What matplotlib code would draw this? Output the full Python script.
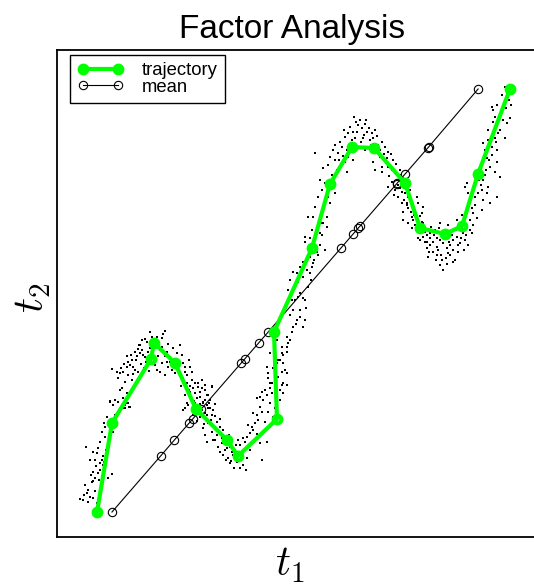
import numpy as np
import matplotlib.pyplot as plt

plt.rcParams['font.family'] = ['Liberation Sans', 'DejaVu Sans']
plt.rcParams['mathtext.fontset'] = 'cm'

# trajectory through the latent space (green)
traj_t1 = [97, 112, 151, 154, 175, 196, 227, 238, 277, 274,
           312, 330, 352, 374, 405, 420, 445, 462, 478, 510]
traj_t2 = [88, 177, 241, 257, 237, 191, 160, 144, 181, 268,
           352, 416, 453, 452, 417, 372, 366, 374, 426, 511]

# linear mean (black, open circles)
mean_t1 = [112, 160.6, 174.4, 189.2, 192.7, 201.3, 241.2, 244.7, 258.6, 268.2,
           341, 353.1, 358.3, 360.1, 396.5, 397.3, 405.1, 427.7, 428.6, 478.1]
mean_t2 = [88, 144, 160, 177, 181, 191, 237, 241, 257, 268,
           352, 366, 372, 374, 416, 417, 426, 452, 453, 511]

# observed samples, grouped by stretch of the curve
cloud_arm_left = [
    (110, 198), (125, 195), (129, 193), (123, 192), (127, 197), (107, 183), (108, 175),
    (105, 173), (102, 168), (113, 168), (105, 163), (86, 153), (93, 148), (97, 147),
    (103, 144), (102, 140), (95, 140), (100, 137), (103, 135), (96, 134), (100, 130),
    (93, 128), (112, 126), (108, 122), (95, 122), (92, 118), (93, 119), (88, 110),
    (95, 109), (87, 107), (80, 101), (83, 100), (93, 102), (88, 98), (97, 97),
    (84, 105), (90, 103), (85, 115), (99, 120), (91, 125), (98, 127), (104, 138),
    (90, 140), (98, 152), (106, 150), (100, 158), (109, 158), (104, 177), (115, 185),
    (118, 198)]

cloud_peak_left = [
    (165, 269), (152, 263), (157, 263), (142, 260), (145, 261), (162, 262), (158, 258),
    (138, 251), (135, 248), (142, 250), (140, 247), (143, 245), (137, 244), (145, 243),
    (132, 240), (128, 238), (130, 235), (127, 233), (133, 233), (135, 230), (138, 228),
    (123, 228), (120, 227), (117, 228), (112, 231), (128, 225), (132, 220), (125, 218),
    (122, 212), (120, 210), (127, 207), (123, 202), (128, 197), (115, 200), (110, 199),
    (113, 195), (125, 192), (130, 193), (162, 253), (167, 248), (170, 243), (173, 252),
    (177, 247), (180, 255), (182, 245), (183, 237), (185, 233), (190, 233), (192, 228),
    (187, 225), (183, 222), (192, 220), (195, 217), (198, 213), (202, 212), (205, 210),
    (208, 205), (200, 203), (203, 198), (195, 197), (188, 195), (207, 195), (210, 192),
    (212, 213), (157, 230), (155, 235), (162, 237), (167, 238), (168, 233), (172, 230),
    (175, 227), (178, 230), (180, 225), (182, 220), (187, 213), (190, 208), (197, 188),
    (202, 190), (185, 192), (165, 225), (153, 242), (148, 248), (150, 238),
    (140, 255), (147, 258), (150, 252), (155, 256), (160, 250), (158, 244), (152, 246),
    (146, 238), (141, 236), (136, 240), (131, 245), (144, 232), (149, 229), (170, 238),
    (173, 233), (176, 240), (165, 244), (168, 256), (163, 266), (150, 268), (139, 255),
    (127, 244), (124, 236), (118, 222), (121, 232), (133, 226), (160, 228), (178, 236),
    (185, 228), (189, 240)]

cloud_trough_left = [
    (187, 217), (198, 217), (205, 215), (212, 214), (193, 212), (200, 208), (207, 205),
    (190, 203), (197, 202), (210, 200), (203, 197), (187, 197), (208, 192), (183, 190),
    (205, 187), (212, 185), (193, 185), (200, 183), (217, 178), (208, 177), (213, 173),
    (220, 173), (203, 172), (223, 170), (212, 168), (205, 165), (217, 165), (207, 158),
    (213, 160), (222, 157), (218, 153), (225, 150), (230, 153), (223, 145), (228, 142),
    (233, 145), (230, 137), (237, 138), (243, 135), (235, 150), (240, 155), (245, 158),
    (247, 163), (250, 167), (243, 162), (253, 170), (252, 173), (255, 177), (258, 180),
    (257, 185), (253, 187), (262, 188), (260, 193), (263, 200), (257, 202), (267, 205),
    (262, 208), (270, 212), (272, 217), (282, 215), (287, 215), (283, 207), (280, 200),
    (270, 197), (275, 192), (268, 188), (273, 183), (265, 178), (270, 173), (262, 140),
    (267, 158), (260, 157),
    (218, 168), (222, 162), (226, 158), (232, 148), (236, 143), (239, 140), (241, 146),
    (244, 150), (226, 140), (234, 132), (247, 142), (250, 150), (215, 160), (210, 176),
    (229, 165), (238, 160), (246, 130), (240, 132), (254, 160), (257, 166), (220, 148),
    (248, 175), (231, 139), (227, 152), (236, 155),
    (185, 205), (190, 214), (195, 207), (200, 196), (205, 200), (209, 197), (213, 190),
    (215, 184), (192, 191), (199, 190), (211, 180), (197, 179), (215, 196), (189, 210),
    (202, 220), (181, 214), (220, 181), (204, 176), (194, 199), (207, 185)]

cloud_rise_mid = [
    (305, 363), (322, 365), (327, 373), (323, 377), (325, 350), (317, 348), (313, 337),
    (312, 333), (303, 338), (300, 333), (297, 327), (293, 328), (290, 320), (303, 323),
    (310, 327), (307, 330), (288, 310), (298, 303), (300, 307), (303, 302), (295, 300),
    (293, 290), (290, 285), (300, 283), (305, 280), (297, 280), (293, 273), (303, 273),
    (287, 263), (290, 260), (287, 253), (282, 253), (282, 247), (287, 248), (280, 240),
    (283, 237), (277, 237), (273, 232), (282, 228), (287, 227), (278, 223), (270, 247),
    (267, 233), (268, 227), (270, 217), (275, 215), (283, 217), (265, 210), (272, 207),
    (260, 203), (257, 202), (280, 210), (268, 222),
    (278, 240), (283, 245), (288, 257), (292, 268), (296, 276), (300, 290), (305, 300),
    (308, 313), (311, 320), (314, 340), (318, 345), (320, 355), (277, 260), (285, 230),
    (275, 228), (292, 300), (306, 292), (298, 318), (310, 343), (315, 360)]

cloud_peak_right = [
    (358, 475), (362, 472), (353, 468), (367, 468), (348, 467), (372, 467), (345, 463),
    (375, 470), (363, 462), (355, 462), (370, 460), (382, 458), (378, 455), (342, 453),
    (385, 453), (388, 448), (387, 442), (393, 440), (380, 443), (348, 443), (353, 440),
    (345, 438), (338, 447), (335, 440), (330, 443), (328, 435), (323, 432), (337, 430),
    (347, 428), (332, 425), (315, 447), (320, 420), (325, 417), (322, 410), (335, 407),
    (318, 403), (328, 403), (330, 397), (315, 393), (323, 390), (327, 383), (313, 383),
    (322, 377), (308, 383), (312, 370), (320, 367), (310, 362), (305, 358), (375, 430),
    (382, 428), (388, 433), (395, 427), (392, 418), (398, 415), (395, 410), (402, 408),
    (388, 413), (398, 403), (405, 407), (410, 402), (402, 397), (408, 392), (415, 390),
    (403, 388), (412, 383), (417, 380), (408, 377), (415, 375), (423, 377), (412, 372),
    (425, 368), (418, 362), (427, 358), (382, 433), (373, 438), (365, 450), (358, 452),
    (340, 458), (344, 470), (350, 473), (356, 478), (360, 480), (365, 476), (369, 472),
    (373, 462), (377, 464), (380, 450), (384, 446), (351, 457), (347, 450), (357, 468),
    (364, 465), (339, 440), (333, 450), (391, 446), (396, 436), (386, 437), (371, 455),
    (361, 458), (352, 460), (343, 444), (389, 424), (376, 448), (366, 480), (354, 483),
    (335, 455), (400, 430),
    (392, 430), (397, 420), (400, 412), (404, 400), (407, 395), (411, 388), (414, 385),
    (418, 378), (400, 425), (394, 405), (416, 370), (420, 384), (405, 418), (410, 410),
    (413, 395)]

cloud_trough_right = [
    (505, 513), (492, 493), (497, 495), (493, 490), (500, 487), (495, 483), (510, 482),
    (507, 477), (493, 478), (498, 467), (488, 460), (495, 462), (483, 457), (492, 453),
    (497, 450), (485, 450), (487, 442), (482, 435), (490, 433), (495, 428), (500, 423),
    (483, 420), (488, 413), (482, 410), (487, 407), (483, 400), (497, 403), (490, 397),
    (475, 403), (472, 392), (473, 387), (482, 390), (470, 380), (473, 375), (467, 417),
    (465, 413), (468, 407), (477, 382), (467, 372), (472, 367), (463, 367), (457, 363),
    (465, 360), (460, 357), (453, 360), (450, 355), (447, 352), (443, 357), (440, 360),
    (437, 362), (433, 358), (430, 355), (427, 352), (428, 343), (433, 348), (437, 353),
    (442, 340), (448, 347), (453, 350), (458, 355), (423, 363), (420, 368), (425, 370),
    (417, 373), (412, 372), (413, 380), (422, 378), (418, 397), (423, 393), (415, 390),
    (407, 397), (403, 380), (408, 403), (417, 403), (422, 387), (440, 377), (448, 375),
    (457, 380), (462, 385), (467, 393), (468, 355), (430, 367), (435, 370),
    (430, 362), (434, 365), (438, 350), (441, 345), (444, 362), (446, 342), (450, 345),
    (452, 365), (455, 340), (458, 348), (461, 362), (464, 350), (436, 340), (440, 335),
    (447, 336), (453, 338), (429, 348), (425, 358), (420, 360), (466, 365), (462, 372),
    (470, 370), (445, 368), (439, 372), (431, 373), (456, 370), (449, 358), (427, 365),
    (443, 330), (437, 345),
    (475, 395), (478, 407), (481, 415), (485, 425), (489, 440), (492, 445), (496, 458),
    (500, 470), (503, 480), (506, 492), (509, 500), (502, 505), (494, 470), (486, 430),
    (479, 420), (470, 398), (488, 470), (511, 495), (497, 438), (505, 462)]

cloud = np.array(cloud_arm_left + cloud_peak_left + cloud_trough_left
                 + cloud_rise_mid + cloud_peak_right + cloud_trough_right)

fig = plt.figure(figsize=(5.34, 5.84), dpi=100)
ax = fig.add_axes([57 / 534, 47 / 584, 480 / 534, 487 / 584])

ax.plot(cloud[:, 0], cloud[:, 1], 's', color='black', ms=2.0, mew=0, zorder=1)
h_mean, = ax.plot(mean_t1, mean_t2, '-o', color='black', lw=0.8, ms=6,
                  mfc='none', mew=0.8, zorder=2, label='mean')
h_traj, = ax.plot(traj_t1, traj_t2, '-o', color='#00ff00', lw=3, ms=5.5,
                  mfc='none', mew=3, zorder=3, label='trajectory')

ax.set_xlim(57, 537)
ax.set_ylim(63, 550)
ax.set_xticks([])
ax.set_yticks([])
for s in ax.spines.values():
    s.set_linewidth(1.3)

leg = ax.legend(handles=[h_traj, h_mean], loc='upper left',
                bbox_to_anchor=(0.027, 0.99), borderaxespad=0, numpoints=2,
                fontsize=13.3, handlelength=2.5, handletextpad=1.0,
                labelspacing=-0.04, borderpad=0.4, fancybox=False,
                framealpha=1, edgecolor='black')
leg.get_frame().set_linewidth(1.0)

fig.text(292 / 534, 1 - 38 / 584, 'Factor Analysis', ha='center',
         va='baseline', fontsize=24)
fig.text(290 / 534, 1 - 576 / 584, '$t_1$', ha='center', va='baseline',
         fontsize=30)
fig.text(33 / 534, 1 - 298 / 584, '$t_2$', ha='center', va='center',
         rotation=90, fontsize=30)

fig.savefig('out.png', dpi=100)
